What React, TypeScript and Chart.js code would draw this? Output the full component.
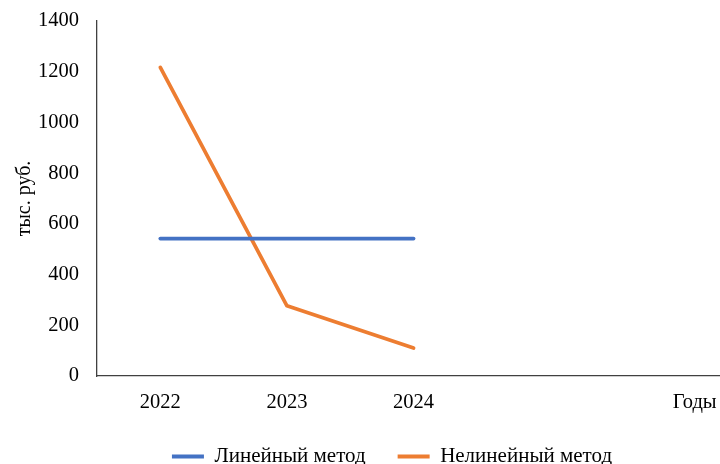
import React, { useEffect, useRef } from "react";
import { Chart, registerables } from "chart.js";

Chart.register(...registerables);

const years = [2022, 2023, 2024];
const linearMethod = [542, 542, 542];
const nonlinearMethod = [1217, 277, 110];
const seriesNames = ["Линейный метод", "Нелинейный метод"];
const xAxisTitle = "Годы";
const xAxisTitlePos = 2026.22;
const yAxisTitle = "тыс. руб.";
const yMin = 0;
const yMax = 1400;
const yStep = 200;

const FONT = "'Liberation Serif', 'Times New Roman', serif";

export default function App() {
  const ref = useRef<HTMLCanvasElement | null>(null);
  useEffect(() => {
    if (!ref.current) return;
    const chart = new Chart(ref.current, {
      type: "line",
      data: {
        datasets: [
          {
            label: seriesNames[0],
            data: years.map((y, i) => ({ x: y, y: linearMethod[i] })),
            borderColor: "#4472C4",
            backgroundColor: "#4472C4",
            borderWidth: 3.7,
            pointRadius: 0,
            borderCapStyle: "round",
            tension: 0,
          },
          {
            label: seriesNames[1],
            data: years.map((y, i) => ({ x: y, y: nonlinearMethod[i] })),
            borderColor: "#ED7D31",
            backgroundColor: "#ED7D31",
            borderWidth: 3.7,
            pointRadius: 0,
            borderCapStyle: "round",
            borderJoinStyle: "round",
            tension: 0,
          },
        ],
      },
      options: {
        animation: false,
        responsive: false,
        maintainAspectRatio: false,
        layout: { padding: { top: 21, right: -64, left: 0, bottom: -13 } },
        plugins: {
          tooltip: { enabled: false },
          legend: {
            position: "bottom",
            labels: {
              font: { family: FONT, size: 21 },
              color: "#000",
              boxWidth: 32,
              boxHeight: 4,
              padding: 32,
              generateLabels: (c: any) =>
                c.data.datasets.map((ds: any, i: number) => ({
                  text: ds.label,
                  fillStyle: ds.borderColor,
                  strokeStyle: ds.borderColor,
                  lineWidth: 0,
                  hidden: false,
                  datasetIndex: i,
                  fontColor: "#000",
                })),
            },
          },
        },
        scales: {
          x: {
            type: "linear",
            min: 2021.5,
            max: 2026.42,
            grid: { display: false, drawTicks: false },
            border: { display: true, color: "#404040", width: 1.3 },
            afterBuildTicks: (scale: any) => {
              scale.ticks = [...years, xAxisTitlePos].map((v) => ({ value: v }));
            },
            ticks: {
              autoSkip: false,
              maxRotation: 0,
              padding: 14,
              color: "#000",
              font: { family: FONT, size: 20.5 },
              callback: (v: any) => (v === xAxisTitlePos ? xAxisTitle : String(v)),
            },
            afterFit: (scale: any) => {
              scale.height = 38;
              scale.paddingLeft = 0;
              scale.paddingRight = 0;
            },
          },
          y: {
            type: "linear",
            min: yMin,
            max: yMax,
            grid: { display: false, drawTicks: false },
            border: { display: true, color: "#404040", width: 1.3 },
            ticks: {
              stepSize: yStep,
              padding: 18,
              color: "#000",
              font: { family: FONT, size: 20.5 },
              callback: (v: any) => String(v),
            },
            title: {
              display: true,
              text: yAxisTitle,
              color: "#000",
              font: { family: FONT, size: 20 },
              padding: { top: 13, bottom: 0 },
            },
            afterFit: (scale: any) => {
              scale.width = 97;
              scale.paddingTop = 0;
              scale.paddingBottom = 0;
            },
          },
        },
      },
    });
    return () => chart.destroy();
  }, []);
  return (
    <div style={{ position: "fixed", left: 0, top: 0, width: 720, height: 464, background: "#fff" }}>
      <canvas ref={ref} width={720} height={464} style={{ width: 720, height: 464 }} />
    </div>
  );
}
